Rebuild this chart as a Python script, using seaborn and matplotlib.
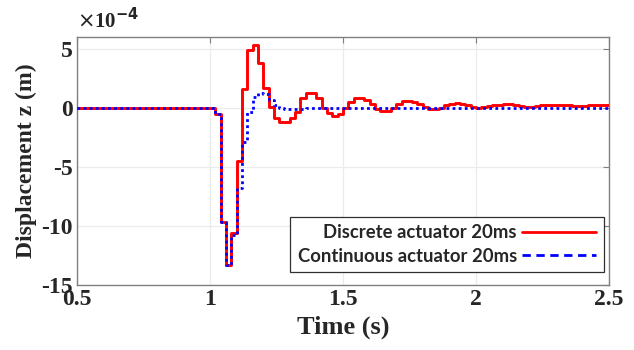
import numpy as np
import pandas as pd
import matplotlib
matplotlib.use("Agg")
import matplotlib.pyplot as plt
from matplotlib.lines import Line2D
import seaborn as sns

# ---------------- data (displacement in units of 1e-4 m) ----------------
time_s = np.round(np.arange(0.5, 2.5001, 0.02), 2)   # 20 ms sample grid

discrete_20ms = [0.0] * 26 + [
    -0.5, -9.7, -13.3, -10.6, -4.5, 1.6, 4.9, 5.3, 3.8, 1.7,
    0.1, -0.85, -1.2, -1.2, -0.85, -0.35, 0.85, 1.3, 1.3, 0.85,
    0.0, -0.4, -0.65, -0.55, 0.0, 0.5, 0.85, 0.85, 0.65, 0.3,
    -0.1, -0.3, -0.3, 0.0, 0.35, 0.55, 0.55, 0.5, 0.3, 0.05,
    -0.08, -0.1, 0.0, 0.2, 0.35, 0.38, 0.35, 0.25, 0.1, 0.03,
    0.05, 0.12, 0.22, 0.28, 0.3, 0.3, 0.25, 0.15, 0.1, 0.1,
    0.15, 0.22, 0.27, 0.28, 0.28, 0.25, 0.2, 0.18, 0.17, 0.17,
    0.2, 0.23, 0.25, 0.25, 0.25,
]

continuous_20ms = [0.0] * 26 + [
    -0.5, -9.7, -13.3, -10.8, -6.8, -2.9, -0.35, 0.9, 1.25, 1.2,
    0.65, 0.28, 0.0, -0.1, -0.12, -0.1, -0.08, -0.05, -0.05, -0.03,
] + [-0.05] * 55

series_labels = ["Discrete actuator 20ms", "Continuous actuator 20ms"]
series_colors = ["#ff0000", "#0000ff"]
x_ticks = [0.5, 1, 1.5, 2, 2.5]
x_tick_labels = ["0.5", "1", "1.5", "2", "2.5"]
y_ticks = [-15, -10, -5, 0, 5]
y_tick_labels = ["-15", "-10", "-5", "0", "5"]

df = pd.DataFrame({"t": time_s, "disc": discrete_20ms, "cont": continuous_20ms})

# ---------------- style ----------------
sns.set_style("white")
plt.rcParams["font.family"] = ["Liberation Serif", "DejaVu Serif"]
plt.rcParams["axes.unicode_minus"] = False

fig = plt.figure(figsize=(6.34, 3.5), dpi=100)
ax = fig.add_axes([77 / 634, 1 - 285 / 350, (609 - 77) / 634, (285 - 37) / 350])

sns.lineplot(data=df, x="t", y="disc", ax=ax, color=series_colors[0], lw=2.1,
             drawstyle="steps-post", estimator=None, zorder=3)
sns.lineplot(data=df, x="t", y="cont", ax=ax, color=series_colors[1], lw=2.0,
             drawstyle="steps-post", estimator=None, linestyle=(0, (1, 1.2)), zorder=4)

ax.set_xlim(0.5, 2.5)
ax.set_ylim(-15, 6)
ax.set_xticks(x_ticks)
ax.set_xticklabels(x_tick_labels)
ax.set_yticks(y_ticks)
ax.set_yticklabels(y_tick_labels)

ax.grid(True, color="#ebebeb", lw=0.9)
ax.set_axisbelow(True)
for s in ax.spines.values():
    s.set_color("#808080")
    s.set_linewidth(1.0)
ax.tick_params(axis="both", direction="in", length=4, width=0.8, color="#808080",
               top=True, right=True, labelsize=17, pad=3)
for lab in ax.get_xticklabels() + ax.get_yticklabels():
    lab.set_fontweight("bold")
    lab.set_color("#262626")

ax.set_xlabel("Time (s)", fontsize=19, fontweight="bold", color="#262626", labelpad=4)
ax.set_ylabel("Displacement z (m)", fontsize=17, fontweight="bold", color="#262626", labelpad=3)

ax.text(0.0, 1.015, r"$\times$10$^{\mathbf{-4}}$", transform=ax.transAxes,
        fontsize=15, fontweight="bold", color="#262626", ha="left", va="bottom")

handles = [
    Line2D([], [], color=series_colors[0], lw=2.0),
    Line2D([], [], color=series_colors[1], lw=2.0, linestyle=(0, (3, 2))),
]
leg = ax.legend(handles, series_labels, loc="lower right", bbox_to_anchor=(0.99, 0.052),
                borderaxespad=0, markerfirst=False, handlelength=4.0, handletextpad=0.3,
                frameon=True, fancybox=False, framealpha=1, edgecolor="#303030",
                prop={"family": "Lato", "weight": "bold", "size": 13.3},
                borderpad=0.4, labelspacing=0.35)
leg.get_frame().set_linewidth(0.9)

fig.savefig("out.png", dpi=100)
